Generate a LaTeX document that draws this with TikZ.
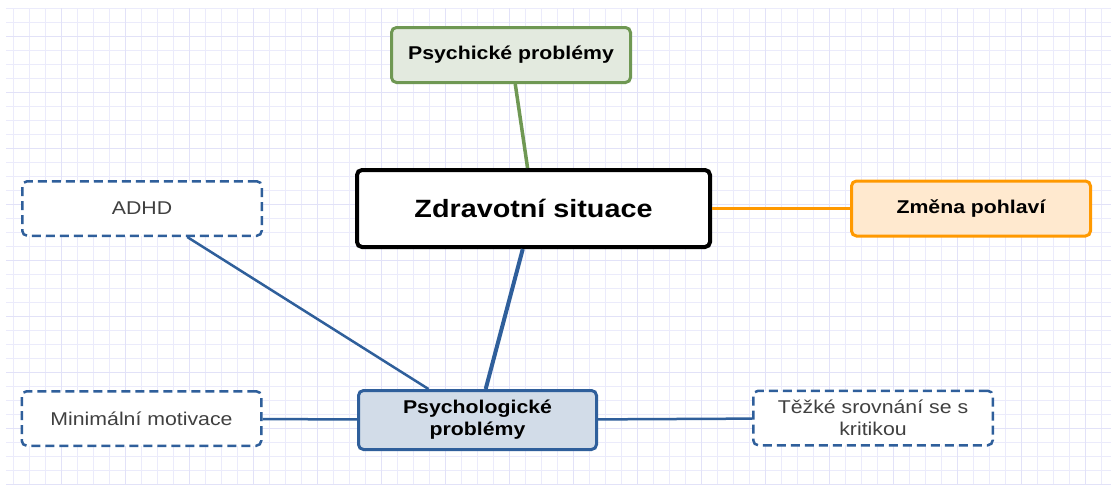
\documentclass[tikz,border=0pt]{standalone}
\usepackage{fontspec}
\setmainfont{Liberation Sans}[FakeStretch=1.15]
\usepackage{tikz}
\usetikzlibrary{positioning}
\definecolor{gridminor}{HTML}{EBEBFB}
\definecolor{gridmajor}{HTML}{E2E2F8}
\definecolor{psygreen}{HTML}{6F9853}
\definecolor{psyfill}{HTML}{E3EADF}
\definecolor{orangeline}{HTML}{FF9900}
\definecolor{orangefill}{HTML}{FFE9CF}
\definecolor{blueline}{HTML}{2F5F9B}
\definecolor{bluefill}{HTML}{D2DCE8}
\definecolor{leaftext}{HTML}{404040}

\begin{document}
\begin{tikzpicture}[x=1pt, y=-1pt,
            mainbox/.style={draw=black, line width=4pt, fill=white, rounded corners=5pt, minimum width=353pt, minimum height=77pt, font=\fontsize{25}{30}\selectfont\bfseries},
            topicbox/.style={rounded corners=5pt, line width=3pt, minimum width=239pt, minimum height=55pt, font=\fontsize{18.5}{22}\selectfont\bfseries, align=center},
            leafbox/.style={draw=blueline, dash pattern=on 9pt off 5pt, line width=2.5pt, fill=white, rounded corners=5pt, minimum width=239.5pt, minimum height=54.5pt, text=leaftext, font=\fontsize{18.5}{22}\selectfont, align=center}]
            \useasboundingbox (0,0) rectangle (1111,485);
            \fill[white] (0,0) rectangle (1111,485);

            \foreach \gx in {13,29,...,1109} \draw[gridminor, line width=0.9pt] (\gx,8) -- (\gx,485);
            \foreach \gy in {8,22,...,484} \draw[gridminor, line width=0.9pt] (6,\gy) -- (1111,\gy);
            \foreach \gx in {61,125,...,1109} \draw[gridmajor, line width=1pt] (\gx,8) -- (\gx,485);
            \foreach \gy in {36,92,...,484} \draw[gridmajor, line width=1pt] (6,\gy) -- (1111,\gy);

            \node[mainbox] (health) at (533.5,208.5) {Zdravotní situace};
            \node[topicbox, draw=psygreen, fill=psyfill] (psychic) at (511,55) {Psychické problémy};
            \node[topicbox, draw=orangeline, fill=orangefill] (gender) at (971,208.5) {Změna pohlaví};
            \node[topicbox, draw=blueline, fill=bluefill, minimum width=238pt, minimum height=59pt] (psycho) at (477.5,420) {Psychologické\\problémy};
            \node[leafbox] (adhd) at (142,208.5) {ADHD};
            \node[leafbox] (motiv) at (141.5,418.5) {Minimální motivace};
            \node[leafbox] (critic) at (873,418) {Těžké srovnání se s\\kritikou};

            \draw[psygreen, line width=3.5pt] (psychic) -- (health);
            \draw[orangeline, line width=3pt] (health) -- (gender);
            \draw[blueline, line width=4pt] (health) -- (psycho);
            \draw[blueline, line width=2.5pt] (adhd) -- (psycho);
            \draw[blueline, line width=2.5pt] (motiv) -- (psycho);
            \draw[blueline, line width=2.5pt] (psycho) -- (critic);
        \end{tikzpicture}
\end{document}
